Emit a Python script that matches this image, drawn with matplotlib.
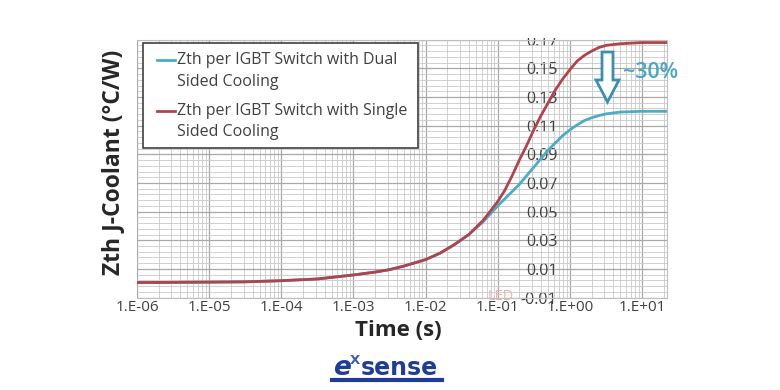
import numpy as np
import matplotlib
matplotlib.use("Agg")
import matplotlib.pyplot as plt
from matplotlib.ticker import FixedLocator, FuncFormatter, LogLocator, NullFormatter
from matplotlib.patches import Polygon, Rectangle

# ---- data ----
log10_time = [-6, -5, -4.5, -4, -3.5, -3, -2.7, -2.5, -2.3, -2.0, -1.8, -1.6, -1.4,
              -1.2, -1.0, -0.9, -0.8, -0.7, -0.6, -0.5, -0.4, -0.3, -0.2, -0.1,
              0.0, 0.1, 0.2, 0.3, 0.4, 0.5, 0.7, 1.0, 1.35]
zth_single = [0.0005, 0.0008, 0.001, 0.0018, 0.003, 0.0058, 0.0078, 0.0095, 0.012,
              0.0165, 0.021, 0.027, 0.034, 0.044, 0.057, 0.065, 0.075, 0.086, 0.096,
              0.107, 0.117, 0.126, 0.135, 0.1425, 0.149, 0.155, 0.159, 0.162, 0.1645,
              0.166, 0.1672, 0.168, 0.168]
zth_dual = [0.0005, 0.0008, 0.001, 0.0018, 0.003, 0.0058, 0.0078, 0.0095, 0.012,
            0.0165, 0.021, 0.027, 0.034, 0.043, 0.054, 0.059, 0.064, 0.069, 0.075,
            0.081, 0.087, 0.093, 0.098, 0.103, 0.107, 0.1105, 0.1135, 0.1155, 0.117,
            0.1182, 0.1195, 0.120, 0.120]
time_s = [10.0 ** v for v in log10_time]
y_ticks = [-0.01, 0.01, 0.03, 0.05, 0.07, 0.09, 0.11, 0.13, 0.15, 0.17]
x_ticks = [1e-6, 1e-5, 1e-4, 1e-3, 1e-2, 1e-1, 1e0, 1e1]
label_dual = ["Zth per IGBT Switch with Dual", "Sided Cooling"]
label_single = ["Zth per IGBT Switch with Single", "Sided Cooling"]
annot_text = "~30%"

C_DUAL = "#4bacc6"
C_SINGLE = "#b0444c"
TXT = "#404040"

W, H = 780, 390
fig = plt.figure(figsize=(7.8, 3.9), dpi=100)

def fx(px):
    return px / W

def fy(py):
    return 1 - py / H

ax_l, ax_r, ax_t, ax_b = 137, 667, 39.7, 297.6
ax = fig.add_axes([fx(ax_l), fy(ax_b), fx(ax_r - ax_l), (ax_b - ax_t) / H])

ax.set_xscale("log")
ax.set_xlim(1e-6, 10 ** (1 + 25 / 72))
ax.set_ylim(-0.01, 0.17)

ax.plot(time_s, zth_dual, color=C_DUAL, lw=2.0, zorder=3, solid_capstyle="round")
ax.plot(time_s, zth_single, color=C_SINGLE, lw=2.0, zorder=4, solid_capstyle="round")

# grid
ax.xaxis.set_major_locator(FixedLocator(x_ticks))
ax.xaxis.set_minor_locator(LogLocator(base=10, subs=range(2, 10), numticks=20))
ax.xaxis.set_minor_formatter(NullFormatter())
ax.xaxis.set_major_formatter(FuncFormatter(lambda v, p: f"1.E{int(round(np.log10(v))):+03d}"))
ax.yaxis.set_major_locator(FixedLocator(y_ticks))
ax.yaxis.set_minor_locator(FixedLocator(np.arange(-0.01, 0.1701, 0.004)))
ax.yaxis.set_major_formatter(FuncFormatter(lambda v, p: f"{v:.2f}"))
ax.grid(which="major", color="#a8a8a8", lw=0.9)
ax.grid(which="minor", color="#c9c9c9", lw=0.6)
ax.set_axisbelow(True)

for s in ["top", "right", "bottom"]:
    ax.spines[s].set_color("#bfbfbf")
    ax.spines[s].set_linewidth(0.8)
ax.spines["left"].set_position(("data", 1.0))
ax.spines["left"].set_visible(False)

ax.tick_params(axis="both", which="both", length=0)
ax.tick_params(axis="x", pad=2, labelsize=11, labelcolor=TXT)
ax.tick_params(axis="y", pad=9, labelsize=11.5, labelcolor=TXT)
for lab in ax.get_xticklabels() + ax.get_yticklabels():
    lab.set_fontfamily("Open Sans")

# legend (drawn manually to match the reference layout)
fig.patches.append(Rectangle((fx(143), fy(148)), fx(418 - 143), (148 - 43) / H,
                             transform=fig.transFigure, facecolor="white",
                             edgecolor="#404040", lw=1.2, zorder=6))
for (lines, col, y0) in [(label_dual, C_DUAL, 60), (label_single, C_SINGLE, 111)]:
    fig.lines.append(plt.Line2D([fx(157), fx(175)], [fy(y0), fy(y0)],
                                transform=fig.transFigure, color=col, lw=2, zorder=7))
    for i, t in enumerate(lines):
        fig.text(fx(177), fy(y0 + i * 21.5), t, ha="left", va="center", fontsize=11.5,
                 family="Open Sans", color=TXT, zorder=8)

# axis titles
fig.text(fx(113), fy(162), "Zth J-Coolant (°C/W)", rotation=90, ha="center", va="center",
         fontsize=16.5, fontweight="bold", family="Open Sans", color="#262626")
fig.text(fx(398), fy(331), "Time (s)", ha="center", va="center",
         fontsize=16, fontweight="bold", family="Open Sans", color="#262626")

# crop effect at top
fig.patches.append(Rectangle((0, fy(38)), 1, 1 - fy(38), transform=fig.transFigure,
                             facecolor="white", edgecolor="none", zorder=10))

# arrow annotation
pts = [(602, 52), (613, 52), (613, 80), (619, 80), (607.5, 102), (596, 80), (602, 80)]
fig.patches.append(Polygon([(fx(a), fy(b)) for a, b in pts], closed=True,
                           transform=fig.transFigure, facecolor="white",
                           edgecolor="#3b8fae", lw=2, zorder=11))
fig.text(fx(623), fy(73), annot_text, ha="left", va="center", fontsize=15.5,
         fontweight="semibold", family="Open Sans", color="#48a7c4", zorder=12)

# faint watermark
fig.text(fx(488), fy(297), "LED", ha="left", va="center", fontsize=10.5,
         family="Open Sans", color="#efb0b0", zorder=2)

# logo
fig.text(fx(333), fy(368), "e", ha="left", va="center", fontsize=19, fontweight="bold",
         family="DejaVu Sans", color="#1f3d96", style="italic")
fig.text(fx(350), fy(361), "X", ha="left", va="center", fontsize=9.5, fontweight="bold",
         family="DejaVu Sans", color="#3a5db0")
fig.text(fx(361), fy(368), "sense", ha="left", va="center", fontsize=17, fontweight="bold",
         family="DejaVu Sans", color="#1f3d96")
fig.lines.append(plt.Line2D([fx(332), fx(442)], [fy(380), fy(380)], transform=fig.transFigure,
                            color="#1f3d96", lw=3))

fig.savefig("out.png", dpi=100)
